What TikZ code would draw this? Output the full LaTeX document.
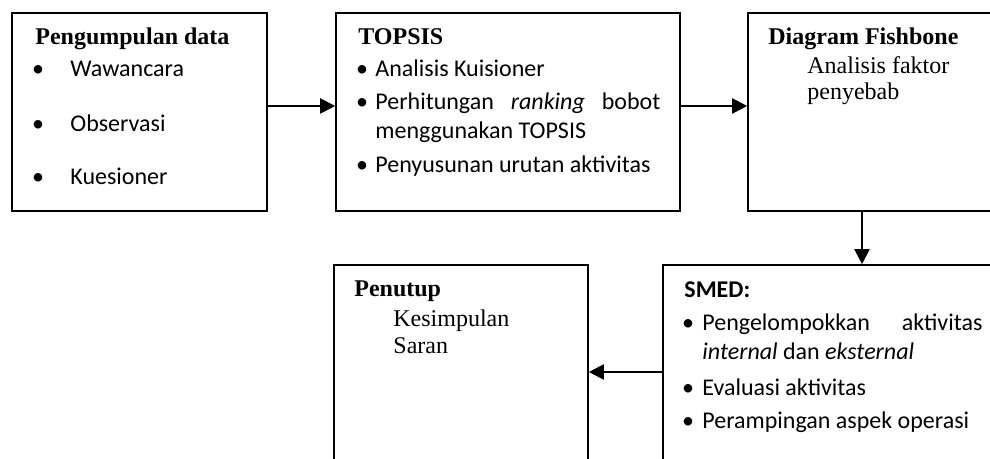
\documentclass[tikz,border=0pt]{standalone}
\usepackage{fontspec}
\setmainfont{Liberation Serif}
\newfontfamily\calib{Carlito}
\usetikzlibrary{arrows.meta,fit}
\begin{document}
\begin{tikzpicture}[x=0.5pt,y=-0.5pt,
 box/.style={draw, line width=0.8pt, inner sep=0pt},
 arr/.style={line width=1pt, -{Triangle[length=7.5pt,width=7.5pt]}},
 ser/.style={inner sep=0pt, anchor=base west, font=\fontsize{12}{14}\selectfont},
 san/.style={inner sep=0pt, anchor=base west, font=\calib\fontsize{12}{14}\selectfont},
 bul/.style={inner sep=0pt, anchor=base, font=\calib\fontsize{12}{14}\selectfont}]
\useasboundingbox (0,0) rectangle (990,459);
\clip (0,0) rectangle (990,459);
% boxes
\node[box, fit={(12,13)(267,211)}] (b1) {};
\node[box, fit={(336,13)(680,211)}] (b2) {};
\node[box, fit={(748,13)(1000,211)}] (b3) {};
\node[box, fit={(663,265)(1000,479)}] (b4) {};
\node[box, fit={(334,265)(588,479)}] (b5) {};
% box 1 text
\node[ser] (t1) at (35,45) {\bfseries Pengumpulan data};
\node[bul] (p1) at (38,77) {•};
\node[san] (t1a) at (70,77) {Wawancara};
\node[bul] (p2) at (38,132) {•};
\node[san] (t1b) at (70,132) {Observasi};
\node[bul] (p3) at (38,185) {•};
\node[san] (t1c) at (70,185) {Kuesioner};
% box 2 text
\node[ser] (t2) at (358,45) {\bfseries TOPSIS};
\node[bul] (q1) at (362,77) {•};
\node[san] (t2a) at (375,77) {Analisis Kuisioner};
\node[bul] (q2) at (362,110) {•};
\node[san] (t2b) at (375,110) {\makebox[142.5pt][s]{Perhitungan\hfill\textit{ranking}\hfill bobot}};
\node[san] (t2c) at (375,139) {menggunakan TOPSIS};
\node[bul] (q3) at (362,173) {•};
\node[san] (t2d) at (375,173) {Penyusunan urutan aktivitas};
% box 3 text
\node[ser] (t3) at (768,45) {\bfseries Diagram Fishbone};
\node[ser] (t3a) at (807,74) {Analisis faktor};
\node[ser] (t3b) at (807,100) {penyebab};
% box 4 text
\node[san] (t4) at (684,298) {\bfseries SMED:};
\node[bul] (r1) at (688,331) {•};
\node[san] (t4a) at (702,331) {\makebox[140pt][s]{Pengelompokkan\hfill aktivitas}};
\node[san] (t4b) at (702,360) {\textit{internal} dan \textit{eksternal}};
\node[bul] (r2) at (688,395) {•};
\node[san] (t4c) at (702,395) {Evaluasi aktivitas};
\node[bul] (r3) at (688,429) {•};
\node[san] (t4d) at (702,429) {Perampingan aspek operasi};
% box 5 text
\node[ser] (t5) at (354,297) {\bfseries Penutup};
\node[ser] (t5a) at (393,327) {Kesimpulan};
\node[ser] (t5b) at (393,354) {Saran};
% connectors
\coordinate (dx) at (862,0);
\coordinate (ay) at (0,106);
\draw[arr] (b1.east |- ay) -- (b2.west |- ay);
\draw[arr] (b2.east |- ay) -- (b3.west |- ay);
\draw[arr] (b3.south -| dx) -- (b4.north -| dx);
\draw[arr] (b4.west) -- (b5.east);
\end{tikzpicture}
\end{document}
